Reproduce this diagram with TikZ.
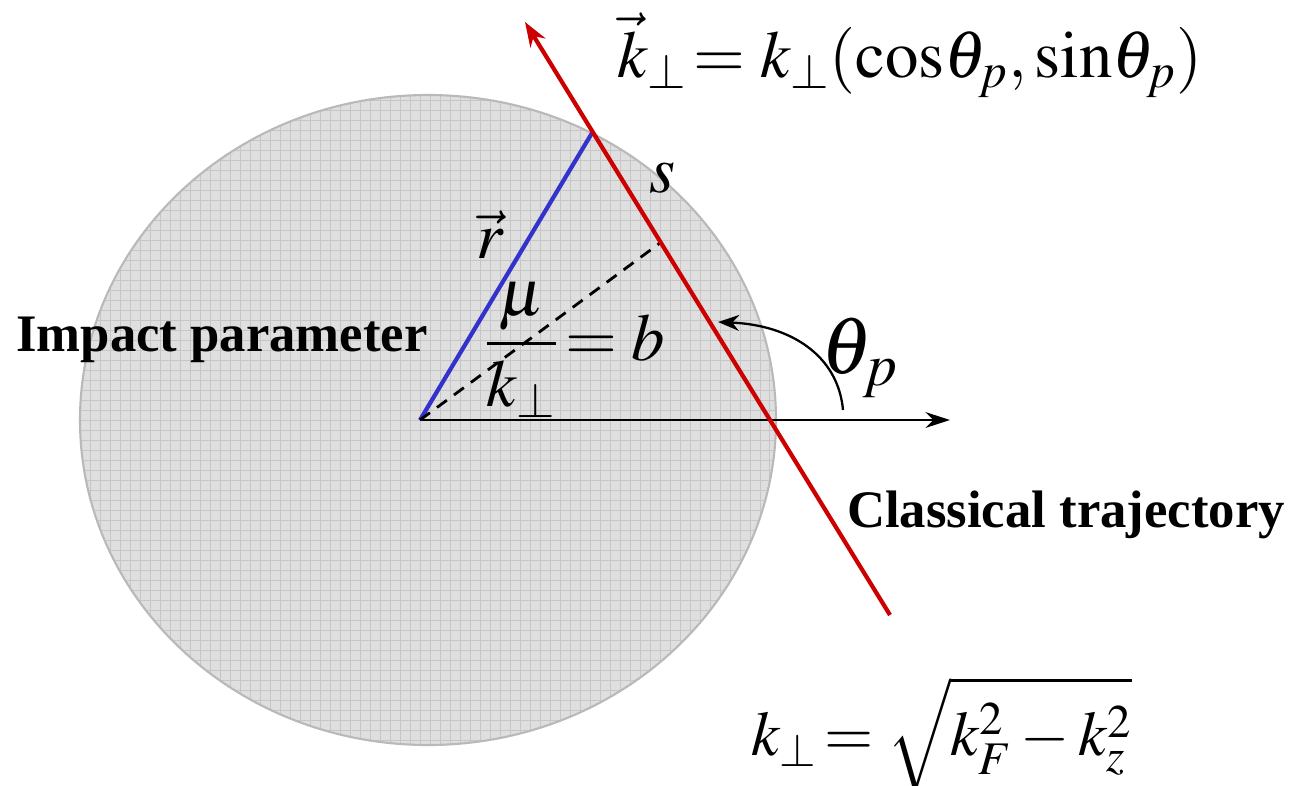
\documentclass[tikz,border=0pt]{standalone}
\usepackage{amsmath}
\usepackage{mathptmx}
\usepackage[no-math]{fontspec}
\setmainfont{Liberation Serif}
\usepackage{tikz}
\usetikzlibrary{arrows.meta, calc}

\definecolor{rvecblue}{RGB}{51,51,204}
\definecolor{trajred}{RGB}{204,0,0}

\tikzset{
  bigmath/.style={font=\fontsize{38}{44}\selectfont, inner sep=0pt},
  boldlbl/.style={font=\fontsize{30}{36}\selectfont\bfseries, inner sep=0pt},
  traj/.style={draw=trajred, line width=2.4pt},
}

\begin{document}
\begin{tikzpicture}[x=0.02cm, y=-0.02cm]
  \useasboundingbox (0,0) rectangle (1310,785);

  % Fermi disc
  \fill[gray!25] (428,420) ellipse (348 and 325);
  \begin{scope}
    \clip (428,420) ellipse (348 and 325);
    \draw[gray!45, line width=0.4pt, step=0.2cm] (70,90) grid (790,750);
  \end{scope}
  \draw[gray!55, line width=1.2pt] (428,420) ellipse (348 and 325);

  \coordinate (O) at (420,420);
  \coordinate (R) at (592,133);
  \coordinate (B) at (660,243);
  \coordinate (xend) at (950,420);
  \coordinate (tstart) at (890,615);
  \coordinate (tend) at (525,22);
  \coordinate (astart) at (843,410);
  \coordinate (aend) at (718,322);

  % axis and vectors
  \draw[-{Stealth[length=14pt,width=9pt]}, line width=1.3pt] (O) -- (xend);
  \draw[rvecblue, line width=2.4pt] (O) -- (R);
  \draw[line width=1.6pt, dash pattern=on 7pt off 5pt] (O) -- (B);

  % Classical trajectory
  \draw[traj, -{Stealth[length=14pt,width=10pt]}] (tstart) -- (tend);

  % angle
  \draw[-{Stealth[length=12pt,width=9pt]}, line width=1.3pt] (astart) .. controls (838,355) and (790,325) .. (aend);

  % labels
  \node[bigmath] (kvec) at (910,55) {$\vec{k}_\perp \!= k_\perp(\mathrm{cos}\theta_p,\mathrm{sin}\theta_p)$};
  \node[bigmath, font=\fontsize{36}{42}\selectfont] (kperp) at (942,735) {$k_\perp \!= \sqrt{k_F^2 - k_z^2}$};
  \node[bigmath] (s) at (662,178) {$s$};
  \node[bigmath] (rvec) at (490,235) {$\vec{r}$};
  \node[bigmath] (bval) at (575,350) {$\dfrac{\mu}{k_\perp}\!=b$};
  \node[font=\fontsize{46}{50}\selectfont, inner sep=0pt] (theta) at (860,358) {$\theta_p$};
  \node[boldlbl] (impact) at (222,340) {Impact parameter};
  \node[boldlbl] (classic) at (1066,515) {Classical trajectory};
\end{tikzpicture}
\end{document}
